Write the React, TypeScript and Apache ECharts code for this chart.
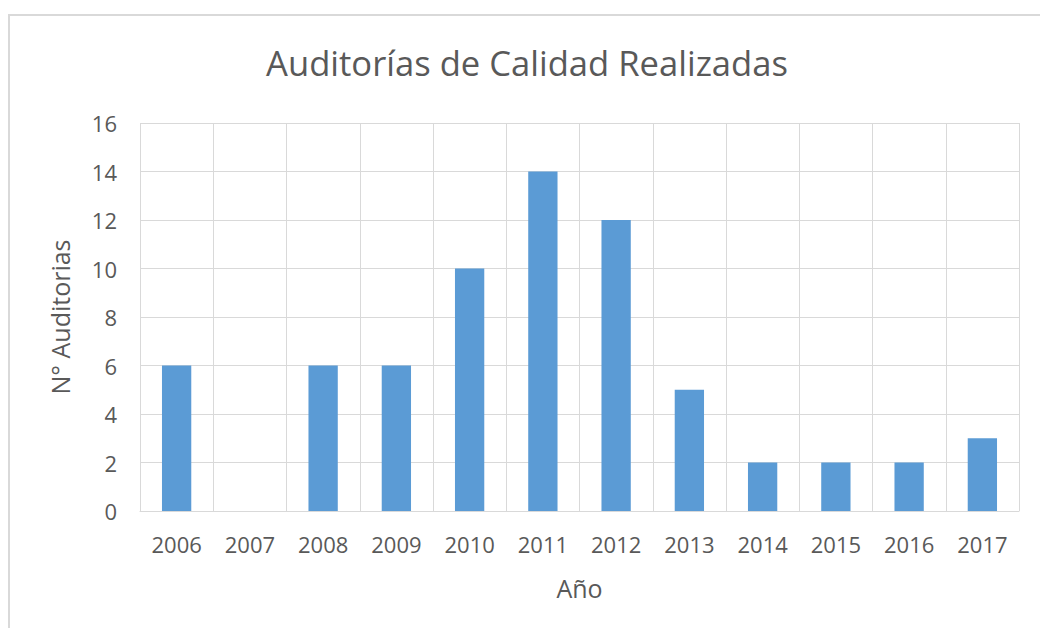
import React, { useEffect, useRef } from "react";
import * as echarts from "echarts";

const titleText = "Auditorías de Calidad Realizadas";
const years = ["2006", "2007", "2008", "2009", "2010", "2011", "2012", "2013", "2014", "2015", "2016", "2017"];
const audits = [6, 0, 6, 6, 10, 14, 12, 5, 2, 2, 2, 3];
const xAxisName = "Año";
const yAxisName = "N° Auditorias";

const FONT = "'Open Sans', 'Noto Sans', sans-serif";
const TEXT = "#595959";
const GRID = "#d9d9d9";

export default function App() {
  const ref = useRef<HTMLDivElement>(null);
  useEffect(() => {
    if (!ref.current) return;
    const chart = echarts.init(ref.current, undefined, { renderer: "svg" });
    chart.setOption({
      animation: false,
      backgroundColor: "#ffffff",
      textStyle: { fontFamily: FONT },
      title: {
        text: titleText,
        left: 522,
        top: 40,
        textAlign: "center",
        textStyle: { fontFamily: FONT, fontSize: 34.6, fontWeight: "normal", color: TEXT },
      },
      graphic: [
        {
          type: "rect",
          shape: { x: 9, y: 15, width: 1200, height: 800 },
          style: { fill: "none", stroke: GRID, lineWidth: 2 },
          silent: true,
        },
      ],
      grid: { left: 140, right: 21, top: 123, bottom: 117 },
      xAxis: {
        type: "category",
        data: years,
        boundaryGap: true,
        name: xAxisName,
        nameLocation: "middle",
        nameGap: 64,
        nameTextStyle: { fontFamily: FONT, fontSize: 25, color: TEXT },
        axisLine: { show: true, lineStyle: { color: GRID, width: 1 } },
        axisTick: { show: false },
        axisLabel: { fontFamily: FONT, fontSize: 22, color: TEXT, margin: 22 },
        splitLine: { show: true, lineStyle: { color: GRID, width: 1 } },
      },
      yAxis: {
        type: "value",
        min: 0,
        max: 16,
        interval: 2,
        name: yAxisName,
        nameLocation: "middle",
        nameGap: 68,
        nameTextStyle: { fontFamily: FONT, fontSize: 25, color: TEXT },
        axisLine: { show: false },
        axisTick: { show: false },
        axisLabel: { fontFamily: FONT, fontSize: 22, color: TEXT, margin: 23 },
        splitLine: { show: true, lineStyle: { color: GRID, width: 1 } },
      },
      series: [
        {
          type: "bar",
          data: audits,
          barWidth: "40%",
          itemStyle: { color: "#5B9BD5" },
        },
      ],
    });
    return () => chart.dispose();
  }, []);
  return <div ref={ref} style={{ position: "absolute", left: 0, top: 0, width: 1040, height: 628 }} />;
}
